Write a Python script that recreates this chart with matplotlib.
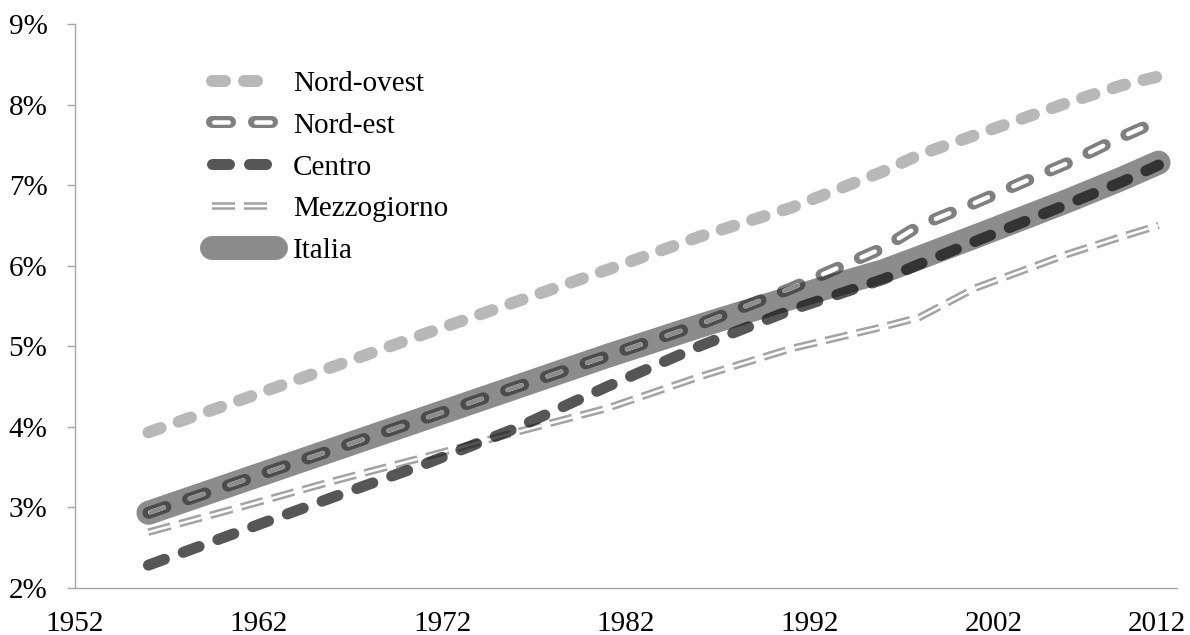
#!/usr/bin/env python3

import numpy as np
import matplotlib
matplotlib.use("Agg")
import matplotlib.pyplot as plt
from matplotlib.patches import Polygon
from matplotlib.legend_handler import HandlerTuple
import matplotlib.transforms as mtransforms

years = [1956, 1961, 1966, 1971, 1976, 1981, 1986, 1991, 1996, 1998, 2001, 2006, 2009, 2011]

nord_ovest = [3.93, 4.33, 4.74, 5.15, 5.55, 5.95, 6.36, 6.72, 7.17, 7.38, 7.62, 8.02, 8.24, 8.35]
nord_est = [2.93, 3.32, 3.71, 4.10, 4.49, 4.88, 5.27, 5.72, 6.22, 6.50, 6.78, 7.27, 7.60, 7.80]
centro = [2.28, 2.70, 3.12, 3.53, 3.98, 4.50, 5.00, 5.45, 5.83, 6.02, 6.30, 6.76, 7.04, 7.25]
mezzogiorno = [2.69, 3.00, 3.32, 3.62, 3.93, 4.23, 4.62, 4.97, 5.24, 5.36, 5.72, 6.14, 6.36, 6.50]
italia = [2.93, 3.32, 3.71, 4.10, 4.49, 4.88, 5.25, 5.60, 5.93, 6.10, 6.36, 6.80, 7.08, 7.28]

x_ticks = [1952, 1962, 1972, 1982, 1992, 2002, 2012]
y_ticks = [2, 3, 4, 5, 6, 7, 8, 9]

PX = 0.72  # points per pixel at dpi 100


def main():
    plt.rcParams['font.family'] = ['Liberation Serif', 'DejaVu Serif']
    plt.rcParams['font.size'] = 21
    plt.rcParams['lines.scale_dashes'] = False

    fig = plt.figure(figsize=(11.9, 6.35), dpi=100)
    ax = fig.add_axes([0.063, 0.0745, 0.926, 0.8875])

    # Italia: thick solid band
    l_it, = ax.plot(years, italia, color='#8c8c8c', lw=24 * PX,
                    solid_capstyle='round', solid_joinstyle='round', zorder=2)

    # Mezzogiorno: hollow double dashes
    mz_dash = (23 * PX, 9 * PX)
    l_mz1, = ax.plot(years, mezzogiorno, color='#a3a3a3', lw=7.5 * PX,
                     dashes=mz_dash, dash_capstyle='butt', zorder=3)
    l_mz2, = ax.plot(years, mezzogiorno, color='white', lw=2.5 * PX,
                     dashes=mz_dash, dash_capstyle='butt', zorder=3.1)

    # Nord-ovest
    l_no, = ax.plot(years, nord_ovest, color='#b8b8b8', lw=12 * PX,
                    dashes=(13 * PX, 19 * PX), dash_capstyle='round', zorder=3)

    # Nord-est: outlined dashes, hollow inside
    l_ne1, = ax.plot(years, nord_est, color='#1c1c1c', alpha=0.565, lw=12 * PX,
                     dashes=(18 * PX, 24 * PX), dash_capstyle='round', zorder=4)
    inner = (40.25 * PX, (14.5 * PX, 27.5 * PX))
    l_ne2, = ax.plot(years, nord_est, color='white', lw=4.5 * PX,
                     dash_capstyle='round', zorder=4.1)
    l_ne2.set_linestyle(inner)
    l_ne3, = ax.plot(years, nord_est, color='#8c8c8c', lw=4.5 * PX,
                     dash_capstyle='round', zorder=4.2)
    l_ne3.set_linestyle(inner)
    # inner hole shows the Italia band where the two lines overlap
    band = np.column_stack([
        np.concatenate([years, years[::-1]]),
        np.concatenate([np.array(italia) + 0.158, (np.array(italia) - 0.158)[::-1]]),
    ])
    clip = Polygon(band, closed=True, transform=ax.transData)
    l_ne3.set_clip_path(clip)

    # Centro: dark translucent dashes
    l_ce, = ax.plot(years, centro, color='#0e0e0e', alpha=0.7, lw=11 * PX,
                    dashes=(17 * PX, 20 * PX), dash_capstyle='round', zorder=5)

    ax.set_xlim(1952, 2012)
    ax.set_ylim(2, 9)
    ax.set_xticks(x_ticks)
    ax.set_yticks(y_ticks)
    ax.set_yticklabels(['%d%%' % v for v in y_ticks])

    for s in ['top', 'right']:
        ax.spines[s].set_visible(False)
    for s in ['left', 'bottom']:
        ax.spines[s].set_color('#a6a6a6')
        ax.spines[s].set_linewidth(1.0)
    ax.tick_params(axis='y', length=8 * PX, width=1.0, color='#a6a6a6', pad=14)
    ax.tick_params(axis='x', length=0, pad=17)

    last = ax.get_xticklabels()[-1]
    last.set_transform(last.get_transform() +
                       mtransforms.ScaledTranslation(-0.2, 0, fig.dpi_scale_trans))

    handles = [l_no, (l_ne1, l_ne2), l_ce, (l_mz1, l_mz2), l_it]
    labels = ['Nord-ovest', 'Nord-est', 'Centro', 'Mezzogiorno', 'Italia']
    ax.legend(handles, labels, loc='upper left', bbox_to_anchor=(0.124, 0.918),
              frameon=False, borderaxespad=0, borderpad=0,
              handlelength=2.2, handletextpad=0.58, labelspacing=0.53,
              handler_map={tuple: HandlerTuple(ndivide=1)})

    fig.savefig('out.png', dpi=100)


if __name__ == '__main__':
    main()
